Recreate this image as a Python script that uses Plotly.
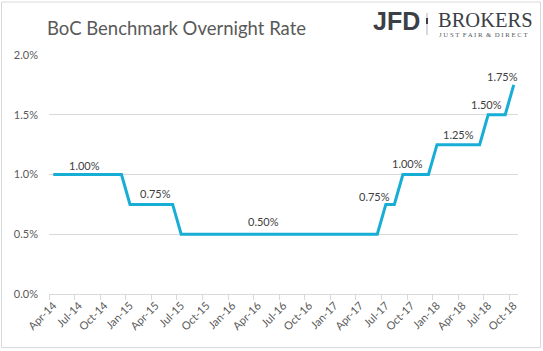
import plotly.graph_objects as go
import pandas as pd

# ---- data ----
months = [d.strftime("%b-%y") for d in pd.date_range("2014-04-01", "2018-10-01", freq="MS")]
rates = [
    1.00, 1.00, 1.00, 1.00, 1.00, 1.00, 1.00, 1.00, 1.00,          # Apr-14 .. Dec-14
    0.75, 0.75, 0.75, 0.75, 0.75, 0.75,                            # Jan-15 .. Jun-15
    0.50, 0.50, 0.50, 0.50, 0.50, 0.50, 0.50, 0.50, 0.50, 0.50,    # Jul-15 .. Apr-16
    0.50, 0.50, 0.50, 0.50, 0.50, 0.50, 0.50, 0.50, 0.50, 0.50,    # May-16 .. Feb-17
    0.50, 0.50, 0.50, 0.50,                                        # Mar-17 .. Jun-17
    0.75, 0.75,                                                    # Jul-17 .. Aug-17
    1.00, 1.00, 1.00, 1.00,                                        # Sep-17 .. Dec-17
    1.25, 1.25, 1.25, 1.25, 1.25, 1.25,                            # Jan-18 .. Jun-18
    1.50, 1.50, 1.50,                                              # Jul-18 .. Sep-18
    1.75,                                                          # Oct-18
]
label_months = ["Aug-14", "Apr-15", "May-16", "Jul-17", "Sep-17", "Mar-18", "Jul-18", "Oct-18"]
y_ticks = [0.0, 0.5, 1.0, 1.5, 2.0]
y_tick_text = ["0.0%", "0.5%", "1.0%", "1.5%", "2.0%"]

# ---- styling ----
W, H = 543, 351
ML, MR, MT, MB = 49, 25, 55, 57
PW, PH = W - ML - MR, H - MT - MB
LINE = "#17AED5"
GRID = "#D9D9D9"
TXT = "#595959"
FONT = "Lato"
label_shift = {  # (xshift, yshift) in px
    "Aug-14": (-3, 9), "Apr-15": (0, 11), "May-16": (-3, 12.5), "Jul-17": (-11, 8),
    "Sep-17": (5, 11), "Mar-18": (4, 10.5), "Jul-18": (-1.5, 10.5), "Oct-18": (-11, 8),
}

def px(x):
    return (x - ML) / PW

def py(y):
    return (H - MB - y) / PH

fig = go.Figure()
fig.add_trace(go.Scatter(x=months, y=rates, mode="lines",
                         line=dict(color=LINE, width=3), hoverinfo="skip"))

annotations = []
for m in label_months:
    i = months.index(m)
    dx, dy = label_shift[m]
    annotations.append(dict(x=m, y=rates[i], xref="x", yref="y", text=f"{rates[i]:.2f}%",
                            showarrow=False, xanchor="center", yanchor="middle",
                            xshift=dx, yshift=dy,
                            font=dict(family=FONT, size=11, color="#404040")))

# title
annotations.append(dict(x=px(45), y=py(28), xref="paper", yref="paper",
                        text="BoC Benchmark Overnight Rate", showarrow=False,
                        xanchor="left", yanchor="middle",
                        font=dict(family=FONT, size=18.5, color=TXT)))
# logo
annotations.append(dict(x=px(371), y=py(21), xref="paper", yref="paper", text="<b>JFD</b>",
                        showarrow=False, xanchor="left", yanchor="middle",
                        font=dict(family="Liberation Sans", size=25, color="#3B4047")))
annotations.append(dict(x=px(436), y=py(20.5), xref="paper", yref="paper", text="BROKERS",
                        showarrow=False, xanchor="left", yanchor="middle",
                        font=dict(family="Liberation Serif", size=20.5, color="#3B4047")))
annotations.append(dict(x=px(437), y=py(34), xref="paper", yref="paper",
                        text="J U S T &nbsp;F A I R &nbsp;&amp; &nbsp;D I R E C T",
                        showarrow=False, xanchor="left", yanchor="middle",
                        font=dict(family="Liberation Serif", size=6.8, color="#555A60")))

shapes = [
    dict(type="rect", xref="paper", yref="paper", x0=px(1.5), x1=px(540.5),
         y0=py(2), y1=py(347.5), line=dict(color=GRID, width=1), fillcolor="rgba(0,0,0,0)",
         layer="below"),
    dict(type="line", xref="paper", yref="paper", x0=px(427), x1=px(427),
         y0=py(13), y1=py(35), line=dict(color="#B0B3B8", width=1)),
    dict(type="line", xref="paper", yref="paper", x0=px(427), x1=px(427),
         y0=py(18), y1=py(24), line=dict(color="#3B4047", width=2)),
]

fig.update_layout(
    width=W, height=H, autosize=False,
    margin=dict(l=ML, r=MR, t=MT, b=MB, pad=0),
    paper_bgcolor="white", plot_bgcolor="white",
    showlegend=False,
    annotations=annotations, shapes=shapes,
    font=dict(family=FONT, color=TXT),
)
fig.update_xaxes(
    type="category", range=[-0.5, len(months) - 0.5],
    tickmode="linear", tick0=0, dtick=3, tickson="boundaries",
    tickangle=-45, ticks="outside", ticklen=5, tickcolor=GRID,
    showline=True, linecolor=GRID, linewidth=1, showgrid=False, zeroline=False,
    tickfont=dict(family=FONT, size=11, color=TXT),
)
fig.update_yaxes(
    range=[0, 2.0], tickmode="array", tickvals=y_ticks, ticktext=y_tick_text,
    showgrid=True, gridcolor=GRID, gridwidth=1, zeroline=False, showline=False,
    ticks="", ticklabelstandoff=10,
    tickfont=dict(family=FONT, size=11, color=TXT),
)

fig.write_html("out.html")
